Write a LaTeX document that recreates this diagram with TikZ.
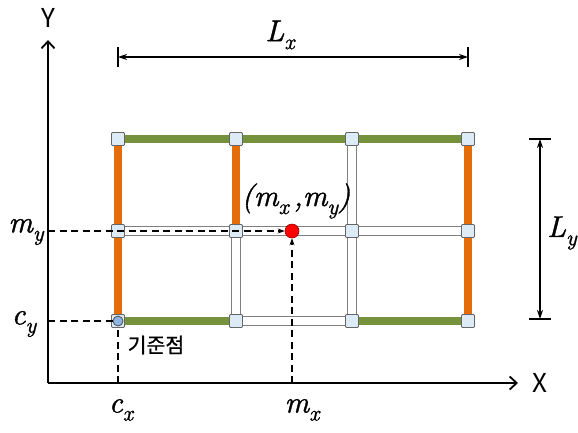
\documentclass[tikz,border=0pt]{standalone}
\usepackage{fontspec}
\newfontfamily\krfont{Noto Sans CJK KR}
\newfontfamily\krboldfont{Noto Sans CJK KR}[FakeBold=0.8]
\newfontfamily\symfont{lmroman10-italic.otf}[FakeBold=1.2]
\usepackage{tikz}
\usetikzlibrary{
  arrows.meta,
  positioning,
  backgrounds
}

\definecolor{beamgreen}{RGB}{118,146,60}
\definecolor{beamorange}{RGB}{228,108,10}
\definecolor{jointblue}{RGB}{221,235,247}
\definecolor{refblue}{RGB}{141,180,226}

% italic letter with a lowered subscript
\newcommand{\symsub}[2]{#1\raisebox{-0.27em}{\fontsize{22}{22}\selectfont #2}}

\tikzset{
  joint/.style={draw=gray!80!black, fill=jointblue, line width=0.8pt,
    minimum size=13pt, inner sep=0pt, rounded corners=1pt},
  greenbeam/.style={beamgreen, line width=8pt},
  orangebeam/.style={beamorange, line width=8.5pt},
  openbeam/.style={draw=gray, line width=1pt, double=white, double distance=8pt},
  guide/.style={line width=1.5pt, dash pattern=on 7pt off 4.5pt},
  axis/.style={line width=1.8pt, -{Straight Barb[length=7pt,width=13pt]}},
  dim/.style={line width=1.1pt, {Stealth[length=9pt,width=6pt]}-{Stealth[length=9pt,width=6pt]}},
  dimbar/.style={line width=1.3pt},
  lbl/.style={font=\symfont\fontsize{30}{33}\selectfont, inner sep=1pt},
  axlbl/.style={font=\krfont\fontsize{26}{30}\selectfont, inner sep=1pt},
  korlbl/.style={font=\krboldfont\fontsize{20.5}{24}\selectfont, inner sep=1pt}
}

\begin{document}
\begin{tikzpicture}[x=1pt,y=-1pt]
  \useasboundingbox (0,0) rectangle (578,432);

  % Draw axes
  \coordinate (o) at (48,383);
  \coordinate (xend) at (518,383);
  \coordinate (yend) at (48,40);
  \draw[axis] (o) -- (xend);
  \draw[axis] (o) -- (yend);
  \node[axlbl] (xlab) at (540,383) {X};
  \node[axlbl] (ylab) at (48,18) {Y};

  % Draw joints, columns c and rows r
  \foreach \c/\x in {1/118,2/236,3/352,4/468}{
    \foreach \r/\y in {1/139,2/231,3/321}{
      \node[joint] (j\c\r) at (\x,\y) {};
    }
  }

  % Draw beams behind the joints
  \begin{scope}[on background layer]
    \draw[greenbeam] (j11) -- (j41);
    \draw[openbeam] (j12) -- (j42);
    \draw[greenbeam] (j13) -- (j23);
    \draw[openbeam] (j23) -- (j33);
    \draw[greenbeam] (j33) -- (j43);
    \draw[orangebeam] (j11) -- (j13);
    \draw[orangebeam] (j21) -- (j22);
    \draw[openbeam] (j22) -- (j23);
    \draw[openbeam] (j31) -- (j33);
    \draw[orangebeam] (j41) -- (j43);
  \end{scope}

  % Reference point and centre point
  \node[circle, draw=black!70, fill=refblue, line width=0.8pt,
    minimum size=10pt, inner sep=0pt] (refpt) at (j13) {};
  \node[circle, draw=red!60!black, fill=red, line width=0.6pt,
    minimum size=14pt, inner sep=0pt] (mpt) at (292,231) {};

  % Guides to the axes
  \coordinate (mybase) at (o |- mpt);
  \coordinate (mxbase) at (mpt |- o);
  \coordinate (cybase) at (o |- refpt);
  \coordinate (cxbase) at (refpt |- o);
  \draw[guide, -{Stealth[length=7pt,width=5pt]}] (mybase) -- (mpt);
  \draw[guide, -{Stealth[length=7pt,width=5pt]}] (mxbase) -- (mpt);
  \draw[guide] (cybase) -- (refpt);
  \draw[guide] (cxbase) -- (refpt);

  % Annotations
  \node[lbl] (mlab) at (296,201) {(\symsub{m}{x}\,,\symsub{m}{y})};
  \node[lbl] (mylab) at (26,232) {\symsub{m}{y}};
  \node[lbl] (cylab) at (24,324) {\symsub{c}{y}};
  \node[lbl] (cxlab) at (121,410) {\symsub{c}{x}};
  \node[lbl] (mxlab) at (302,410) {\symsub{m}{x}};
  \node[korlbl] (reflab) at (156,345) {기준점};

  % Dimension L_x
  \coordinate (lxa) at (118,57);
  \coordinate (lxb) at (468,57);
  \draw[dimbar] ([yshift=10pt]lxa) -- ([yshift=-10pt]lxa);
  \draw[dimbar] ([yshift=10pt]lxb) -- ([yshift=-10pt]lxb);
  \draw[dim] (lxa) -- (lxb);
  \node[lbl] (lxlab) at (280,35) {\symsub{L}{x}};

  % Dimension L_y
  \coordinate (lya) at (540,139);
  \coordinate (lyb) at (540,319);
  \draw[dimbar] ([xshift=-11pt]lya) -- ([xshift=11pt]lya);
  \draw[dimbar] ([xshift=-11pt]lyb) -- ([xshift=11pt]lyb);
  \draw[dim] (lya) -- (lyb);
  \node[lbl] (lylab) at (562,233) {\symsub{L}{y}};
\end{tikzpicture}
\end{document}
